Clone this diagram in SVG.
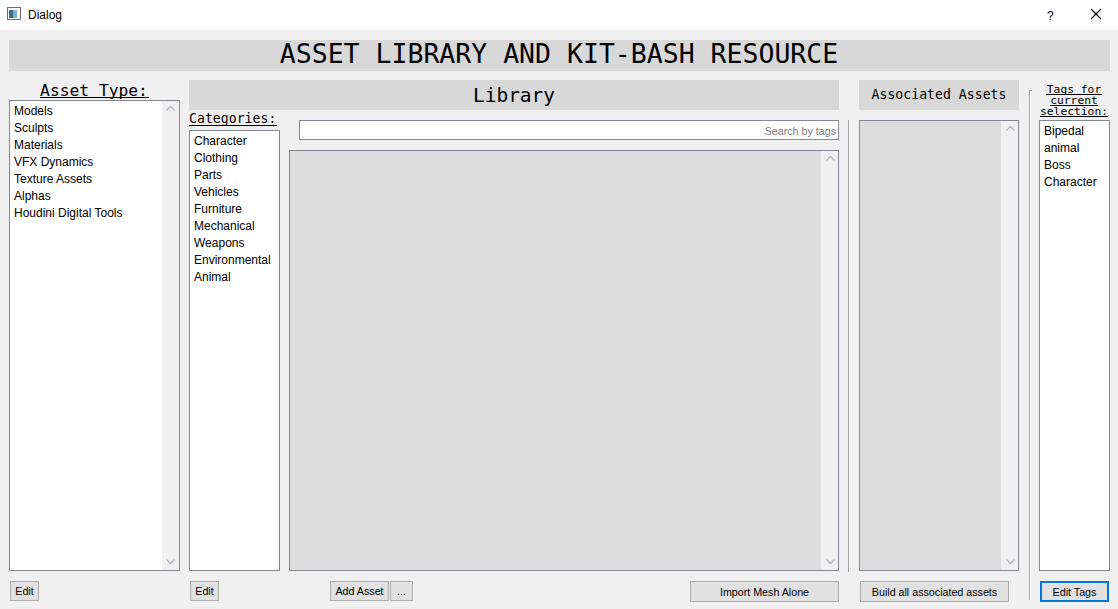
<svg xmlns="http://www.w3.org/2000/svg" width="1118" height="609" viewBox="0 0 1118 609">
<style>
.ui{font-family:"Liberation Sans",Arial,sans-serif;font-size:12px;fill:#000}
.bt{font-family:"Liberation Sans",Arial,sans-serif;font-size:10.7px;fill:#000}
.mono{font-family:"DejaVu Sans Mono","Liberation Mono",monospace;fill:#000}
.hdr{fill:#d8d8d8}
.list{fill:#fff;stroke:#828790;stroke-width:1}
.glist{fill:#dcdcdc;stroke:#828790;stroke-width:1}
.sb{fill:#f0f0f0}
.btn{fill:#e1e1e1;stroke:#adadad;stroke-width:1}
.arr{fill:none;stroke:#b4b4b4;stroke-width:1.3}
.ul{stroke:#000;stroke-width:1}
</style>
<rect x="0" y="0" width="1118" height="609" fill="#f0f0f0"/>
<g id="titlebar">
<rect x="0" y="0" width="1118" height="30" fill="#fff"/>
<rect x="7.5" y="7.5" width="13" height="12" fill="#fff" stroke="#6b6b6b"/>
<rect x="9" y="10" width="4" height="8" fill="#2f6f8f"/>
<rect x="13" y="10" width="4" height="8" fill="#7fb0c0"/>
<text class="ui" x="28" y="19">Dialog</text>
<text class="ui" x="1047" y="20" font-size="14">?</text>
<path d="M1091 9 L1101 19 M1101 9 L1091 19" stroke="#000" stroke-width="1.2"/>
</g>
<g id="banner">
<rect class="hdr" x="9" y="40" width="1101" height="31"/>
<text class="mono" x="559" y="63" font-size="26.5" text-anchor="middle">ASSET LIBRARY AND KIT-BASH RESOURCE</text>
</g>
<g id="asset-type">
<text class="mono" x="94" y="96" font-size="16.3" text-anchor="middle">Asset Type:</text>
<line class="ul" x1="40" y1="97.5" x2="149" y2="97.5"/>
<rect class="list" x="9.5" y="100.5" width="170" height="470"/>
<rect class="sb" x="162" y="101" width="17" height="469"/>
<path class="arr" d="M166.5 110.5 L170.5 106.5 L174.5 110.5"/>
<path class="arr" d="M166.5 559.5 L170.5 563.5 L174.5 559.5"/>
<text class="ui" x="14" y="115">Models</text>
<text class="ui" x="14" y="132">Sculpts</text>
<text class="ui" x="14" y="149">Materials</text>
<text class="ui" x="14" y="166">VFX Dynamics</text>
<text class="ui" x="14" y="183">Texture Assets</text>
<text class="ui" x="14" y="200">Alphas</text>
<text class="ui" x="14" y="217">Houdini Digital Tools</text>
<rect class="btn" x="10.5" y="581.5" width="28" height="19"/>
<text class="bt" x="24.5" y="595" text-anchor="middle">Edit</text>
</g>
<g id="library">
<rect class="hdr" x="189" y="80" width="650" height="30"/>
<text class="mono" x="514" y="102" font-size="19.5" text-anchor="middle">Library</text>
<rect class="list" x="299.5" y="120.5" width="539" height="19"/>
<text class="bt" x="836" y="134.5" font-size="10.8" text-anchor="end" style="fill:#7a7a7a">Search by tags</text>
<rect class="glist" x="289.5" y="150.5" width="549" height="420"/>
<rect class="sb" x="821" y="151" width="17" height="419"/>
<path class="arr" d="M826.5 160.5 L830.5 156.5 L834.5 160.5"/>
<path class="arr" d="M826.5 559.5 L830.5 563.5 L834.5 559.5"/>
<rect class="btn" x="330.5" y="581.5" width="58" height="19"/>
<text class="bt" x="359.5" y="595" text-anchor="middle">Add Asset</text>
<rect class="btn" x="390.5" y="581.5" width="22" height="19"/>
<text class="bt" x="401.5" y="595" text-anchor="middle">...</text>
<rect class="btn" x="690.5" y="581.5" width="148" height="20"/>
<text class="bt" x="764.5" y="596" text-anchor="middle">Import Mesh Alone</text>
</g>
<g id="categories">
<text class="mono" x="189" y="123" font-size="13.2">Categories:</text>
<line class="ul" x1="189" y1="125.5" x2="277" y2="125.5"/>
<rect class="list" x="189.5" y="130.5" width="90" height="440"/>
<text class="ui" x="194" y="145">Character</text>
<text class="ui" x="194" y="162">Clothing</text>
<text class="ui" x="194" y="179">Parts</text>
<text class="ui" x="194" y="196">Vehicles</text>
<text class="ui" x="194" y="213">Furniture</text>
<text class="ui" x="194" y="230">Mechanical</text>
<text class="ui" x="194" y="247">Weapons</text>
<text class="ui" x="194" y="264">Environmental</text>
<text class="ui" x="194" y="281">Animal</text>
<rect class="btn" x="190.5" y="581.5" width="28" height="19"/>
<text class="bt" x="204.5" y="595" text-anchor="middle">Edit</text>
</g>
<g id="separator-1">
<line x1="848.5" y1="120" x2="848.5" y2="572" stroke="#a0a0a0" stroke-width="1"/>
<line x1="849.5" y1="120" x2="849.5" y2="572" stroke="#fff" stroke-width="1"/>
</g>
<g id="associated">
<rect class="hdr" x="859" y="80" width="160" height="30"/>
<text class="mono" x="939" y="99" font-size="13.2" text-anchor="middle">Associated Assets</text>
<rect class="glist" x="859.5" y="120.5" width="159" height="450"/>
<rect class="sb" x="1001" y="121" width="17" height="449"/>
<path class="arr" d="M1006.5 130.5 L1010.5 126.5 L1014.5 130.5"/>
<path class="arr" d="M1006.5 559.5 L1010.5 563.5 L1014.5 559.5"/>
<rect class="btn" x="860.5" y="581.5" width="148" height="20"/>
<text class="bt" x="934.5" y="596" text-anchor="middle">Build all associated assets</text>
</g>
<g id="separator-2">
<path d="M1032 90.5 H1029.5 V600" fill="none" stroke="#a0a0a0" stroke-width="1"/>
<line x1="1030.5" y1="91" x2="1030.5" y2="600" stroke="#fff" stroke-width="1"/>
</g>
<g id="tags">
<text class="mono" x="1074" y="93" font-size="11.3" text-anchor="middle">Tags for</text>
<line class="ul" x1="1046" y1="94.5" x2="1102" y2="94.5"/>
<text class="mono" x="1074" y="104" font-size="11.3" text-anchor="middle">current</text>
<line class="ul" x1="1050" y1="105.5" x2="1098" y2="105.5"/>
<text class="mono" x="1074" y="115" font-size="11.3" text-anchor="middle">selection:</text>
<line class="ul" x1="1040" y1="116.5" x2="1108" y2="116.5"/>
<rect class="list" x="1039.5" y="120.5" width="70" height="450"/>
<text class="ui" x="1044" y="135">Bipedal</text>
<text class="ui" x="1044" y="152">animal</text>
<text class="ui" x="1044" y="169">Boss</text>
<text class="ui" x="1044" y="186">Character</text>
<rect x="1041" y="582" width="67" height="19" fill="#e1e1e1" stroke="#0078d7" stroke-width="2"/>
<text class="bt" x="1074.5" y="596" text-anchor="middle">Edit Tags</text>
</g>
</svg>
